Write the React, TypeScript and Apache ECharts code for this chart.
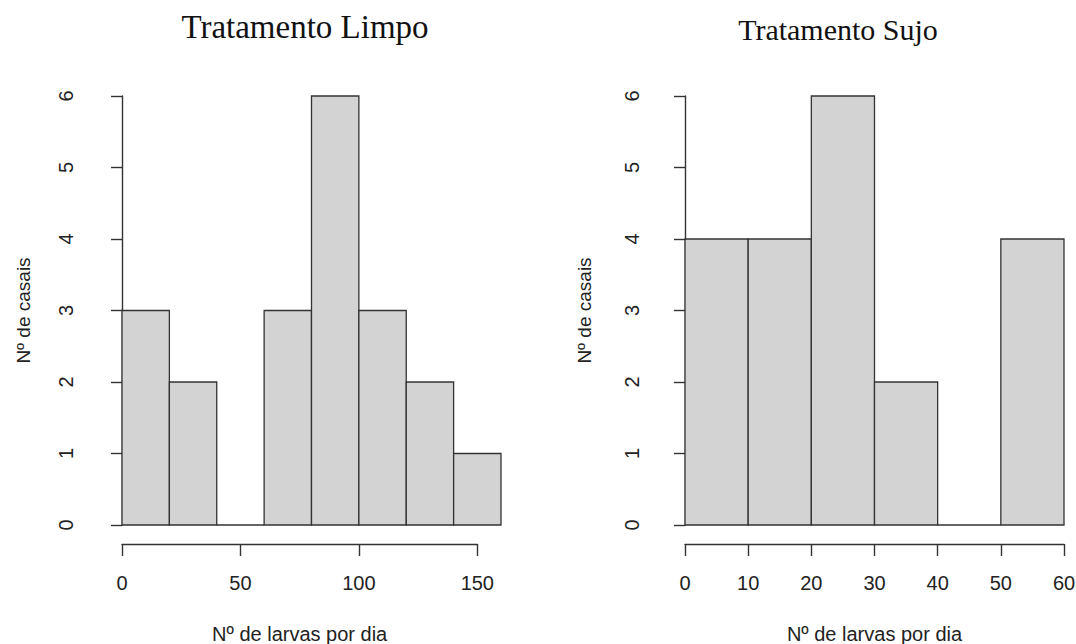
import React, { useEffect, useRef } from "react";
import * as echarts from "echarts";

// Tratamento Limpo: bins of 20 from 0 to 160
const limpoBreaks = [0, 20, 40, 60, 80, 100, 120, 140, 160];
const limpoCounts = [3, 2, 0, 3, 6, 3, 2, 1];
const limpoAxisMax = 150;
const limpoAxisInterval = 50;

// Tratamento Sujo: bins of 10 from 0 to 60
const sujoBreaks = [0, 10, 20, 30, 40, 50, 60];
const sujoCounts = [4, 4, 6, 2, 0, 4];
const sujoAxisMax = 60;
const sujoAxisInterval = 10;

const yMax = 6;
const titles = ["Tratamento Limpo", "Tratamento Sujo"];
const xName = "Nº de larvas por dia";
const yName = "Nº de casais";

const binsOf = (breaks: number[], counts: number[]) =>
  counts.map((c, i) => [breaks[i], breaks[i + 1], c]);

const AXIS = "#333333";
const TEXT = "#222222";
const SANS = "Liberation Sans, Arial, sans-serif";

export default function App() {
  const ref = useRef<HTMLDivElement>(null);
  useEffect(() => {
    if (!ref.current) return;
    const chart = echarts.init(ref.current, undefined, { renderer: "svg" });

    const top = 96;
    const height = 429;
    const lLeft = 122;
    const lWidth = 379;
    const rLeft = 685;
    const rWidth = 379;
    const lBinMax = limpoBreaks[limpoBreaks.length - 1];
    const rBinMax = sujoBreaks[sujoBreaks.length - 1];

    const renderItem = (params: any, api: any) => {
      const p0 = api.coord([api.value(0), api.value(2)]);
      const p1 = api.coord([api.value(1), 0]);
      return {
        type: "rect",
        shape: { x: p0[0], y: p0[1], width: p1[0] - p0[0], height: p1[1] - p0[1] },
        style: { fill: "#d3d3d3", stroke: AXIS, lineWidth: 1.3 },
      };
    };

    const yAxisBase = (offset: number, margin: number) => ({
      type: "value",
      min: 0,
      max: yMax,
      interval: 1,
      offset,
      axisLine: { show: true, lineStyle: { color: AXIS, width: 1.4 } },
      axisTick: { show: true, length: 11, lineStyle: { color: AXIS, width: 1.4 } },
      axisLabel: { rotate: 90, margin, fontSize: 20, color: TEXT, fontFamily: SANS },
      splitLine: { show: false },
      name: yName,
      nameLocation: "middle",
      nameGap: 74,
      nameTextStyle: { fontSize: 19, color: TEXT, fontFamily: SANS },
    });

    const xAxisVisible = (gridIndex: number, max: number, interval: number) => ({
      type: "value",
      gridIndex,
      min: 0,
      max,
      interval,
      offset: 19,
      axisLine: { show: true, onZero: false, lineStyle: { color: AXIS, width: 1.4 } },
      axisTick: { show: true, length: 12, lineStyle: { color: AXIS, width: 1.4 } },
      axisLabel: { margin: 29, fontSize: 20, color: TEXT, fontFamily: SANS },
      splitLine: { show: false },
      name: xName,
      nameLocation: "middle",
      nameGap: 80,
      nameTextStyle: { fontSize: 20, color: TEXT, fontFamily: SANS },
    });

    const gridBase = { outerBoundsMode: "none", containLabel: false };

    chart.setOption({
      animation: false,
      backgroundColor: "#ffffff",
      grid: [
        { ...gridBase, left: lLeft, top, width: lWidth, height },
        { ...gridBase, left: lLeft, top, width: (lWidth * limpoAxisMax) / lBinMax, height },
        { ...gridBase, left: rLeft, top, width: rWidth, height },
      ],
      xAxis: [
        { type: "value", gridIndex: 0, min: 0, max: lBinMax, show: false },
        xAxisVisible(1, limpoAxisMax, limpoAxisInterval),
        { ...xAxisVisible(2, sujoAxisMax, sujoAxisInterval), max: rBinMax },
      ],
      yAxis: [
        { ...yAxisBase(15, 31), gridIndex: 0 },
        { type: "value", gridIndex: 1, min: 0, max: yMax, show: false },
        { ...yAxisBase(17, 26), gridIndex: 2 },
      ],
      series: [
        {
          type: "custom",
          xAxisIndex: 0,
          yAxisIndex: 0,
          renderItem,
          encode: { x: [0, 1], y: 2 },
          data: binsOf(limpoBreaks, limpoCounts),
        },
        {
          type: "custom",
          xAxisIndex: 2,
          yAxisIndex: 2,
          renderItem,
          encode: { x: [0, 1], y: 2 },
          data: binsOf(sujoBreaks, sujoCounts),
        },
      ],
      graphic: [
        {
          type: "text",
          x: 305,
          y: 27,
          style: {
            text: titles[0],
            font: "33px 'Liberation Serif', 'Times New Roman', serif",
            fill: "#111",
            textAlign: "center",
            textVerticalAlign: "middle",
          },
        },
        {
          type: "text",
          x: 838,
          y: 29,
          style: {
            text: titles[1],
            font: "30px 'Liberation Serif', 'Times New Roman', serif",
            fill: "#111",
            textAlign: "center",
            textVerticalAlign: "middle",
          },
        },
      ],
    });
    return () => chart.dispose();
  }, []);

  return (
    <div
      ref={ref}
      style={{ position: "absolute", left: 0, top: 0, width: 1076, height: 644, background: "#fff" }}
    />
  );
}
